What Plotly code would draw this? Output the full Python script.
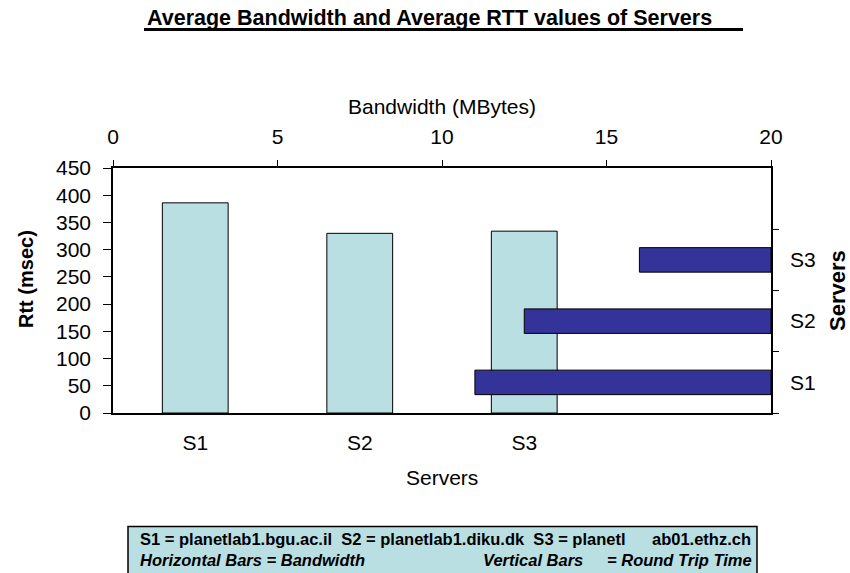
import plotly.graph_objects as go

# Servers and their measured averages
servers = ["S1", "S2", "S3"]
rtt_msec = [386, 330, 334]          # average round trip time per server
bandwidth_mbytes = [11.0, 12.5, 16.0]  # average bandwidth per server

# Axis scales
rtt_ticks = [0, 50, 100, 150, 200, 250, 300, 350, 400, 450]
bw_ticks = [0, 5, 10, 15, 20]
bw_max = 20

title_text = "Average Bandwidth and Average RTT values of Servers"
note_line1_a = "S1 = planetlab1.bgu.ac.il  S2 = planetlab1.diku.dk  S3 = planetl"
note_line1_b = "ab01.ethz.ch"
note_line2_a = "Horizontal Bars = Bandwidth"
note_line2_b = "Vertical Bars"
note_line2_c = "= Round Trip Time"

W, H = 850, 573
ML, MR, MT, MB = 113, 79, 168, 160
PW, PH = W - ML - MR, H - MT - MB

FONT = "Arial, 'Liberation Sans', sans-serif"
LIGHT = "#BADFE3"
DARK = "#333399"


def fx(px):
    return (px - ML) / PW


def fy(py):
    return (H - MB - py) / PH


fig = go.Figure()

# Round trip time: vertical bars on the bottom/left axes
fig.add_trace(go.Bar(
    x=servers, y=rtt_msec, width=0.4,
    marker=dict(color=LIGHT, line=dict(color="#000000", width=1)),
    xaxis="x", yaxis="y", showlegend=False,
))

# Bandwidth: horizontal bars on the top/right axes, drawn from the right edge
fig.add_trace(go.Bar(
    y=servers, x=[v - bw_max for v in bandwidth_mbytes], base=[bw_max] * len(servers),
    orientation="h", width=0.4,
    marker=dict(color=DARK, line=dict(color="#000000", width=1)),
    xaxis="x2", yaxis="y2", showlegend=False,
))

axis_font = dict(family=FONT, size=21, color="#000000")

fig.update_layout(
    width=W, height=H,
    margin=dict(l=ML, r=MR, t=MT, b=MB, pad=0),
    paper_bgcolor="white", plot_bgcolor="white",
    font=dict(family=FONT, color="#000000"),
    barmode="overlay",
    xaxis=dict(
        type="category", range=[-0.5, 3.5], showgrid=False, zeroline=False,
        showline=True, linecolor="#000000", linewidth=1.5,
        ticks="", tickfont=axis_font, ticklabelstandoff=10,
        fixedrange=True,
    ),
    yaxis=dict(
        range=[0, 450], tickvals=rtt_ticks, showgrid=False, zeroline=False,
        showline=True, linecolor="#000000", linewidth=1.5,
        ticks="outside", ticklen=8, tickwidth=1.2, tickcolor="#000000",
        tickfont=axis_font, ticklabelstandoff=8,
    ),
    xaxis2=dict(
        overlaying="x", side="top", range=[0, bw_max], tickvals=bw_ticks,
        showgrid=False, zeroline=False,
        showline=True, linecolor="#000000", linewidth=1.5,
        ticks="outside", ticklen=6, tickwidth=1.2, tickcolor="#000000",
        tickfont=axis_font, ticklabelstandoff=8,
    ),
    yaxis2=dict(
        overlaying="y", side="right", type="category", range=[-0.5, 3.5],
        showgrid=False, zeroline=False,
        showline=True, linecolor="#000000", linewidth=1.5,
        ticks="outside", tickson="boundaries", ticklen=6, tickwidth=1.2,
        tickcolor="#000000", tickfont=axis_font, ticklabelstandoff=13,
    ),
)

ann = []
# Chart title
ann.append(dict(text="<b>%s</b>" % title_text, x=fx(145), y=fy(18), xanchor="left",
                yanchor="middle", font=dict(family=FONT, size=21.5)))
# Axis titles
ann.append(dict(text="Bandwidth (MBytes)", x=fx(442), y=fy(106), xanchor="center",
                yanchor="middle", font=axis_font))
ann.append(dict(text="Servers", x=fx(442), y=fy(477), xanchor="center",
                yanchor="middle", font=axis_font))
ann.append(dict(text="<b>Rtt (msec)</b>", x=fx(26), y=fy(279), xanchor="center",
                yanchor="middle", textangle=-90, font=dict(family=FONT, size=20)))
ann.append(dict(text="<b>Servers</b>", x=fx(837), y=fy(291), xanchor="center",
                yanchor="middle", textangle=-90, font=dict(family=FONT, size=22)))
# Key box text
key_font = dict(family=FONT, size=16.5, color="#000000")
ann.append(dict(text="<b>%s</b>" % note_line1_a, x=fx(138), y=fy(539), xanchor="left",
                yanchor="middle", font=key_font))
ann.append(dict(text="<b>%s</b>" % note_line1_b, x=fx(753), y=fy(539), xanchor="right",
                yanchor="middle", font=key_font))
ann.append(dict(text="<b><i>%s</i></b>" % note_line2_a, x=fx(138), y=fy(560), xanchor="left",
                yanchor="middle", font=key_font))
ann.append(dict(text="<b><i>%s</i></b>" % note_line2_b, x=fx(481), y=fy(560), xanchor="left",
                yanchor="middle", font=key_font))
ann.append(dict(text="<b><i>%s</i></b>" % note_line2_c, x=fx(754), y=fy(560), xanchor="right",
                yanchor="middle", font=key_font))
for a in ann:
    a.update(xref="paper", yref="paper", showarrow=False)
fig.update_layout(annotations=ann)

fig.update_layout(shapes=[
    # underline of the title
    dict(type="line", xref="paper", yref="paper", x0=fx(144), x1=fx(743),
         y0=fy(29.5), y1=fy(29.5), line=dict(color="#000000", width=3)),
    # key box
    dict(type="rect", xref="paper", yref="paper", x0=fx(128), x1=fx(757),
         y0=fy(526.5), y1=fy(585), fillcolor=LIGHT, layer="below",
         line=dict(color="#000000", width=1.5)),
])

fig.write_html("out.html")
